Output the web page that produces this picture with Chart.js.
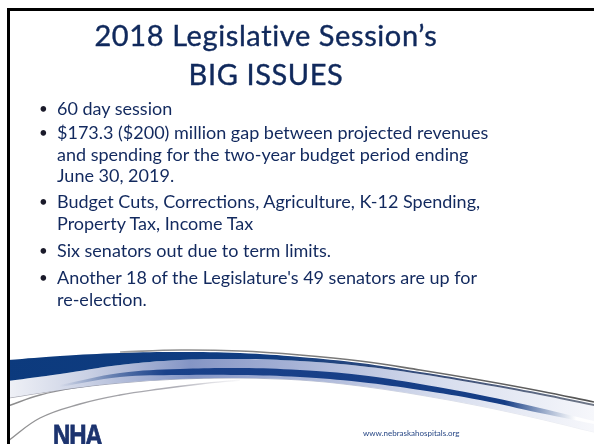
<!DOCTYPE html>
<html>
<head>
<meta charset="utf-8">
<script src="https://cdn.jsdelivr.net/npm/chart.js@4"></script>
<style>
  html, body { margin: 0; padding: 0; background: #fff; }
  #slide { position: relative; width: 594px; height: 444px; overflow: hidden; background: #fff; }
  #swoosh { position: absolute; left: 0; top: 0; }
  .edgeTop { position: absolute; left: 7px; top: 8px; width: 587px; height: 3px; background: #000; }
  .edgeLeft { position: absolute; left: 7px; top: 8px; width: 3px; height: 436px; background: #000; }
  #title { position: absolute; left: 0; top: 15px; width: 532px; text-align: center;
    font-family: Lato, sans-serif; font-size: 29px; letter-spacing: 0.6px; line-height: 39px; color: #10295c; white-space: nowrap;
    -webkit-text-stroke: 0.4px #10295c; }
  .item { position: absolute; left: 57px; font-family: Lato, sans-serif; font-size: 18px;
    line-height: 21.5px; color: #12295e; white-space: nowrap; }
  .item::before { content: "\2022"; position: absolute; left: -18px; color: #1a1a2a; font-size: 15px; }
  #url { position: absolute; left: 363px; top: 428px; font-family: Lato, sans-serif; font-size: 8px; color: #274785; white-space: nowrap; }
  #logo { position: absolute; left: 53px; top: 420px; font-family: "Liberation Sans", sans-serif;
    font-weight: bold; font-size: 30px; line-height: 30px; letter-spacing: -1.5px; color: #1c336f;
    transform: scaleX(0.8); transform-origin: left top; -webkit-text-stroke: 0.8px #1c336f; }
</style>
</head>
<body>
<div id="slide">
  <canvas id="swoosh" width="594" height="444"></canvas>
  <div class="edgeTop"></div>
  <div class="edgeLeft"></div>
  <div id="title">2018 Legislative Session’s<br>BIG ISSUES</div>
  <div class="item" style="top:98px">60 day session</div>
  <div class="item" style="top:122px">$173.3 ($200) million gap between projected revenues<br>and spending for the two-year budget period ending<br>June 30, 2019.</div>
  <div class="item" style="top:191px">Budget Cuts, Corrections, Agriculture, K-12 Spending,<br>Property Tax, Income Tax</div>
  <div class="item" style="top:240px">Six senators out due to term limits.</div>
  <div class="item" style="top:267px">Another 18 of the Legislature's 49 senators are up for<br>re-election.</div>
  <div id="url">www.nebraskahospitals.org</div>
  <div id="logo">NHA</div>
</div>
<script>
'use strict';

// swoosh outline (x across, y down, in px)
let swooshX = [8, 60, 120, 180, 240, 300, 360, 420, 480, 540, 594];
let shadowTop = [null, null, 352, 350, 351, 355, 361, 370, 380, 391, 402];
let navyTop = [360, 356, 353, 352, 353, 357, 363, 372, 382, 393, 404];
let navyBottom = [381, 374, 365, 360, 359, 361, 366, 374, 384, 395, 406];
let stripeTop = [null, 385, 373, 369, 368, 370, 375, 384, 395, 408, 421];
let stripeBottom = [null, 387, 377, 375, 375, 377, 382, 390, 400, 413, 424];
let bandBottom = [398, 390, 383, 379, 378, 380, 386, 395, 406, 419, 432];

let arcX = [8, 40, 80, 120, 160, 200, 240];
let arcUpper = [406, 395, 387, 382, 378, 376, 375];
let arcLower = [441, 418, 404, 395, 389, 384, 380];

let canvasElem = document.getElementById('swoosh');

function toPoints(xs, ys) {
  let pts = [];
  for (let i = 0; i < xs.length; i++) {
    if (ys[i] !== null) {
      pts.push({ x: xs[i], y: ys[i] });
    }
  }
  return pts;
}

function sideGradient(stops) {
  return function (context) {
    let chart = context.chart;
    if (!chart.chartArea) {
      return null;
    }
    let g = chart.ctx.createLinearGradient(chart.chartArea.left, 0, chart.chartArea.right, 0);
    stops.forEach(function (s) { g.addColorStop(s[0], s[1]); });
    return g;
  };
}

function edge(ys, xs, extra) {
  let ds = {
    data: toPoints(xs || swooshX, ys),
    borderWidth: 0,
    borderColor: 'rgba(0,0,0,0)',
    pointRadius: 0,
    tension: 0.4,
    fill: false
  };
  return Object.assign(ds, extra || {});
}

function renderChart() {
  let datasets = [
    // 0: grey shadow line riding on top
    edge(shadowTop, null, {
      borderWidth: 1.6,
      borderColor: sideGradient([[0, 'rgba(120,120,120,0)'], [0.25, 'rgba(120,120,120,0.8)'], [0.7, '#6d6d6d'], [1, '#555']])
    }),
    // 1-2: lower navy stripe
    edge(stripeTop, null, {
      fill: { target: 2 },
      backgroundColor: sideGradient([[0.1, 'rgba(15,58,128,0)'], [0.28, '#1a418a'], [0.85, '#153d85'], [0.97, 'rgba(255,255,255,0.9)']])
    }),
    edge(stripeBottom),
    // 3-4: upper navy band
    edge(navyTop, null, {
      fill: { target: 4 },
      backgroundColor: sideGradient([[0, '#0c3a7d'], [0.45, '#103d82'], [0.75, '#3b4f7a'], [1, '#707888']])
    }),
    edge(navyBottom),
    // 5-6: light blue-grey band under the navy
    edge(navyBottom, null, {
      fill: { target: 6 },
      backgroundColor: sideGradient([[0, '#f3f4f8'], [0.15, '#c9d0e4'], [0.32, '#8495c5'], [0.5, '#a7b3d6'], [0.75, '#d8deee'], [1, '#f6f7fb']])
    }),
    edge(bandBottom, null, {
      borderWidth: 1.2,
      borderColor: sideGradient([[0, 'rgba(140,140,150,0.8)'], [0.4, 'rgba(120,130,160,0.6)'], [1, 'rgba(200,205,220,0.3)']])
    }),
    // 7-8: thin grey arcs in the lower left
    edge(arcUpper, arcX, {
      borderWidth: 1.4,
      borderColor: sideGradient([[0, '#8a8a8a'], [0.3, '#a8a8b0'], [0.42, 'rgba(200,200,210,0)']])
    }),
    edge(arcLower, arcX, {
      borderWidth: 1.4,
      borderColor: sideGradient([[0, '#8c8c8c'], [0.3, '#b0b0b8'], [0.42, 'rgba(210,210,220,0)']])
    })
  ];

  let chartObj = {
    type: 'line',
    data: { datasets: datasets },
    options: {
      responsive: false,
      animation: false,
      layout: { padding: 0 },
      plugins: { legend: { display: false }, tooltip: { enabled: false }, title: { display: false } },
      scales: {
        x: { type: 'linear', min: 0, max: 594, display: false },
        y: { min: 0, max: 444, reverse: true, display: false }
      }
    }
  };
  new Chart(canvasElem, chartObj);
}

renderChart();
</script>
</body>
</html>
